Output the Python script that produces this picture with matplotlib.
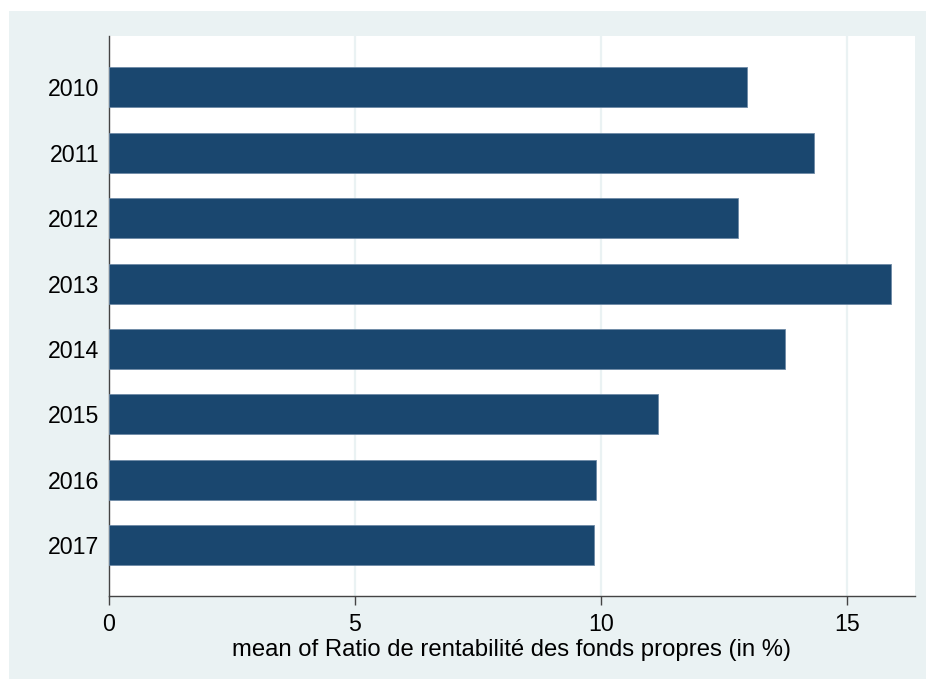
import numpy as np
import matplotlib.pyplot as plt
from matplotlib.patches import Rectangle

plt.rcParams['font.family'] = ['Liberation Sans', 'DejaVu Sans']

years = ['2010', '2011', '2012', '2013', '2014', '2015', '2016', '2017']
roe_mean = [12.97, 14.32, 12.78, 15.90, 13.74, 11.16, 9.90, 9.86]
xticks = [0, 5, 10, 15]

bar_color = '#1a476f'
bg_color = '#eaf2f3'

W, H = 926, 679
fig = plt.figure(figsize=(W / 100, H / 100), dpi=100, facecolor='white')

# outer light band (stata style graph region)
fig.patches.append(Rectangle((9 / W, 0), 1 - 9 / W, 1 - 11 / H,
                             transform=fig.transFigure, facecolor=bg_color,
                             edgecolor='none', zorder=-10))

left, right = 108.7 / W, 915 / W
top, bottom = 1 - 36 / H, 1 - 596 / H
ax = fig.add_axes([left, bottom, right - left, top - bottom])
ax.set_facecolor('white')

pos = np.arange(len(years))
ax.barh(pos, roe_mean, height=0.61, color=bar_color,
        edgecolor='#6d8aa6', linewidth=0.6, zorder=3)

ax.set_ylim(len(years) - 1 + 0.775, -0.784)
ax.set_xlim(0, 16.38)
ax.set_yticks(pos)
ax.set_yticklabels(years)
ax.set_xticks(xticks)
ax.set_xticklabels([str(t) for t in xticks])

for t in xticks[1:]:
    ax.axvline(t, color=bg_color, linewidth=1.6, zorder=1)

for s in ['top', 'right']:
    ax.spines[s].set_visible(False)
for s in ['left', 'bottom']:
    ax.spines[s].set_color('#444444')
    ax.spines[s].set_linewidth(1.0)

ax.tick_params(axis='y', length=0, pad=6.8, labelsize=16.7, colors='black')
ax.tick_params(axis='x', length=6.5, width=1.0, color='#444444', pad=6,
               labelsize=16.7, labelcolor='black')

ax.set_xlabel('mean of Ratio de rentabilité des fonds propres (in %)',
              fontsize=17.2, labelpad=2)

fig.savefig('out.png', dpi=100, facecolor=fig.get_facecolor())
